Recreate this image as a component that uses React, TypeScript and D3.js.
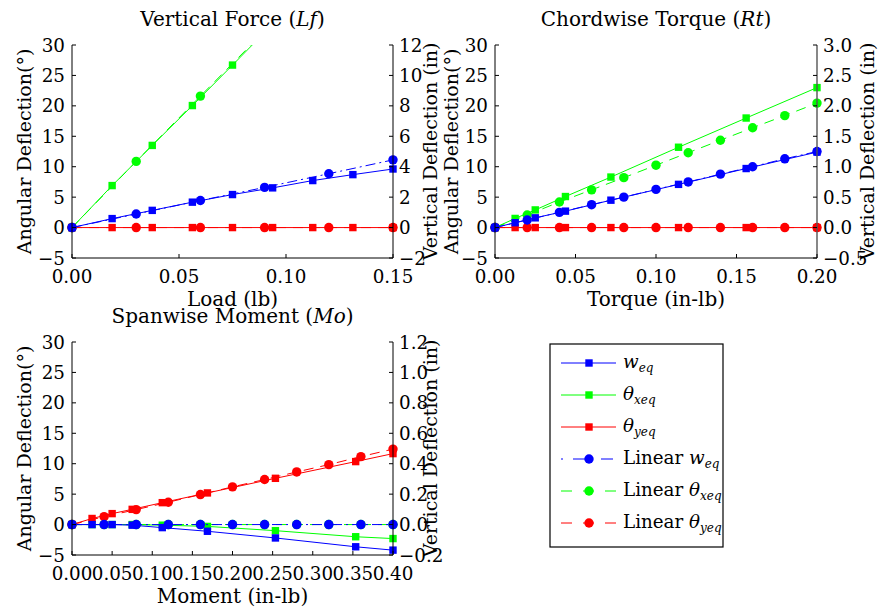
import React from 'react';
import * as d3 from 'd3';

// ---- Vertical force (Lf) ----
const loadExp = [0, 0.01875, 0.0375, 0.05625, 0.075, 0.09375, 0.1125, 0.13125, 0.15];
const loadExpW = [0, 0.59, 1.13, 1.67, 2.17, 2.61, 3.09, 3.48, 3.85];
const loadExpThX = [0, 6.9, 13.5, 20.05, 26.7, 33.4, 40.1, 46.8, 53.5];
const loadExpThY = [0, 0, 0, 0, 0, 0, 0, 0, 0];
const loadLin = [0, 0.03, 0.06, 0.09, 0.12, 0.15];
const loadLinW = [0, 0.89, 1.78, 2.64, 3.54, 4.45];
const loadLinThX = [0, 10.87, 21.6, 32.3, 43.1, 53.8];
const loadLinThY = [0, 0, 0, 0, 0, 0];

// ---- Chordwise torque (Rt) ----
const torqExp = [0, 0.0125, 0.025, 0.04375, 0.072, 0.114, 0.156, 0.2];
const torqExpW = [0, 0.08, 0.16, 0.27, 0.45, 0.71, 0.97, 1.24];
const torqExpThX = [0, 1.5, 2.9, 5.1, 8.3, 13.2, 18.0, 23.0];
const torqExpThY = [0, 0, 0, 0, 0, 0, 0, 0];
const torqLin = [0, 0.02, 0.04, 0.06, 0.08, 0.1, 0.12, 0.14, 0.16, 0.18, 0.2];
const torqLinW = [0, 0.125, 0.25, 0.376, 0.5, 0.627, 0.75, 0.878, 1.0, 1.13, 1.25];
const torqLinThX = [0, 2.07, 4.2, 6.2, 8.2, 10.25, 12.3, 14.35, 16.4, 18.4, 20.45];
const torqLinThY = [0, 0, 0, 0, 0, 0, 0, 0, 0, 0, 0];

// ---- Spanwise moment (Mo) ----
const momExp = [0, 0.025, 0.05, 0.075, 0.1125, 0.16875, 0.2535, 0.3535, 0.4];
const momExpW = [0, 0, 0, -0.004, -0.02, -0.044, -0.088, -0.146, -0.168];
const momExpThX = [0, 0, 0, 0, -0.1, -0.3, -1.0, -2.0, -2.3];
const momExpThY = [0, 1.0, 1.8, 2.5, 3.6, 5.2, 7.6, 10.35, 11.66];
const momLin = [0, 0.04, 0.08, 0.12, 0.16, 0.2, 0.24, 0.28, 0.32, 0.36, 0.4];
const momLinW = [0, 0, 0, 0, 0, 0, 0, 0, 0, 0, 0];
const momLinThX = [0, 0, 0, 0, 0, 0, 0, 0, 0, 0, 0];
const momLinThY = [0, 1.3, 2.46, 3.67, 4.93, 6.2, 7.4, 8.65, 9.85, 11.17, 12.4];

const leftTicks = [-5, 0, 5, 10, 15, 20, 25, 30];

const FONT = "'DejaVu Serif', serif";
const FS = 18.3;
const LFS = 20; // titles / x labels
const YFS = 19; // rotated y labels
const BLUE = '#0000ff';
const GREEN = '#00ff00';
const RED = '#ff0000';
const DASH = '10,7';
const DASHDOT = '10,4,2,4';

const minus = (s: string) => s.replace('-', '\u2212');

type Series = { xs: number[]; ys: number[]; right: boolean; color: string; dash?: string; marker: 'sq' | 'ci' };

const Marker = ({ kind, x, y, color }: { kind: string; x: number; y: number; color: string }) =>
  kind === 'sq'
    ? <rect x={x - 3.7} y={y - 3.7} width={7.4} height={7.4} fill={color} />
    : <circle cx={x} cy={y} r={4.7} fill={color} />;

const Panel = (p: any) => {
  const { id, x0, x1, yTop, yBot, xMax, rMin, rMax, rTicks, rFmt, title, xlabel, series, lLabX, rLabX, rAxisColor } = p;
  const x = d3.scaleLinear().domain([0, xMax]).range([x0, x1]);
  const yl = d3.scaleLinear().domain([-5, 30]).range([yBot, yTop]);
  const yr = d3.scaleLinear().domain([rMin, rMax]).range([yBot, yTop]);
  const xTicks = d3.range(0, xMax + 1e-9, 0.05);
  const mid = (yTop + yBot) / 2;
  const tick = 4;
  return (
    <g fontFamily={FONT} fontSize={FS} fill="#000">
      <defs>
        <clipPath id={`clip-${id}`}>
          <rect x={x0} y={yTop} width={x1 - x0} height={yBot - yTop} />
        </clipPath>
      </defs>
      {/* left-axis series first, right-axis (w) series on top */}
      {series.map((s: Series, i: number) => {
        const y = s.right ? yr : yl;
        const line = d3.line<number>().x((_, j) => x(s.xs[j])).y(v => y(v));
        const [lo, hi] = y.domain();
        return (
          <g key={i}>
            <path d={line(s.ys) || ''} fill="none" stroke={s.color} strokeWidth={1}
              strokeDasharray={s.dash} clipPath={`url(#clip-${id})`} />
            {s.ys.map((v, j) => (v >= lo && v <= hi)
              ? <Marker key={j} kind={s.marker} x={x(s.xs[j])} y={y(v)} color={s.color} /> : null)}
          </g>
        );
      })}
      <line x1={x0} x2={x0} y1={yTop} y2={yBot} stroke="#000" />
      <line x1={x1} x2={x1} y1={yTop} y2={yBot} stroke={rAxisColor || '#000'} strokeWidth={rAxisColor ? 1.4 : 1} />
      <line x1={x0} x2={x1} y1={yBot} y2={yBot} stroke="#000" />
      {leftTicks.map(t => (
        <g key={`l${t}`}>
          <line x1={x0} x2={x0 + tick} y1={yl(t)} y2={yl(t)} stroke="#000" />
          <text x={x0 - 7} y={yl(t)} dy="0.36em" textAnchor="end">{minus(String(t))}</text>
        </g>
      ))}
      {rTicks.map((t: number) => (
        <g key={`r${t}`}>
          <line x1={x1} x2={x1 - tick} y1={yr(t)} y2={yr(t)} stroke="#000" />
          <text x={x1 + 6} y={yr(t)} dy="0.36em" textAnchor="start">{minus(rFmt(t))}</text>
        </g>
      ))}
      {xTicks.map(t => (
        <g key={`x${t}`}>
          <line x1={x(t)} x2={x(t)} y1={yBot} y2={yBot - tick} stroke="#000" />
          <text x={x(t)} y={yBot + 25} textAnchor="middle">{t.toFixed(2)}</text>
        </g>
      ))}
      <g fontSize={LFS}>
        <text x={(x0 + x1) / 2} y={yTop - 19} textAnchor="middle">
          {title[0]}<tspan fontStyle="italic">{title[1]}</tspan>{title[2]}
        </text>
        <text x={(x0 + x1) / 2} y={yBot + 48} textAnchor="middle">{xlabel}</text>
      </g>
      <g fontSize={YFS}>
        <text transform={`translate(${lLabX},${mid}) rotate(-90)`} textAnchor="middle">Angular Deflection(°)</text>
        <text transform={`translate(${rLabX},${mid}) rotate(-90)`} textAnchor="middle">Vertical Deflection (in)</text>
      </g>
    </g>
  );
};

const mk = (ex: number[], lin: number[], eW: number[], eX: number[], eY: number[], lW: number[], lX: number[], lY: number[]): Series[] => [
  { xs: ex, ys: eX, right: false, color: GREEN, marker: 'sq' },
  { xs: ex, ys: eY, right: false, color: RED, marker: 'sq' },
  { xs: lin, ys: lX, right: false, color: GREEN, dash: DASH, marker: 'ci' },
  { xs: lin, ys: lY, right: false, color: RED, dash: DASH, marker: 'ci' },
  { xs: ex, ys: eW, right: true, color: BLUE, marker: 'sq' },
  { xs: lin, ys: lW, right: true, color: BLUE, dash: DASHDOT, marker: 'ci' },
];

const legendItems = [
  { color: BLUE, dash: undefined, marker: 'sq', pre: '', sym: 'w', sub: 'eq' },
  { color: GREEN, dash: undefined, marker: 'sq', pre: '', sym: 'θ', sub: 'xeq' },
  { color: RED, dash: undefined, marker: 'sq', pre: '', sym: 'θ', sub: 'yeq' },
  { color: BLUE, dash: '2,10,12,16,12,10,2', marker: 'ci', pre: 'Linear ', sym: 'w', sub: 'eq' },
  { color: GREEN, dash: '11,11', marker: 'ci', pre: 'Linear ', sym: 'θ', sub: 'xeq' },
  { color: RED, dash: '11,11', marker: 'ci', pre: 'Linear ', sym: 'θ', sub: 'yeq' },
];

const Legend = () => {
  const rows = d3.scalePoint<number>().domain(d3.range(legendItems.length)).range([363, 523]);
  return (
    <g fontFamily={FONT} fontSize={FS}>
      <rect x={550} y={344} width={173} height={203} fill="#fff" stroke="#000" strokeWidth={1.2} />
      {legendItems.map((it, i) => {
        const y = rows(i) as number;
        return (
          <g key={i}>
            <line x1={561} x2={616} y1={y} y2={y} stroke={it.color} strokeWidth={1} strokeDasharray={it.dash} />
            <Marker kind={it.marker} x={589} y={y} color={it.color} />
            <text x={623} y={y} dy="0.3em">
              {it.pre}<tspan fontStyle="italic">{it.sym}</tspan>
              <tspan fontStyle="italic" fontSize={12} dy={4}>{it.sub}</tspan>
            </text>
          </g>
        );
      })}
    </g>
  );
};

export default function App() {
  return (
    <svg width={879} height={611} style={{ position: 'absolute', left: 0, top: 0, background: '#fff' }}>
      <Panel id="a" x0={72} x1={393} yTop={45} yBot={258} xMax={0.15}
        rMin={-2} rMax={12} rTicks={[-2, 0, 2, 4, 6, 8, 10, 12]} rFmt={(t: number) => String(t)}
        title={['Vertical Force (', 'Lf', ')']} xlabel="Load (lb)" lLabX={31} rLabX={437}
        series={mk(loadExp, loadLin, loadExpW, loadExpThX, loadExpThY, loadLinW, loadLinThX, loadLinThY)} />
      <Panel id="b" x0={495} x1={817} yTop={45} yBot={258} xMax={0.2}
        rMin={-0.5} rMax={3} rTicks={[-0.5, 0, 0.5, 1, 1.5, 2, 2.5, 3]} rFmt={(t: number) => t.toFixed(1)}
        title={['Chordwise Torque (', 'Rt', ')']} xlabel="Torque (in-lb)" lLabX={458} rLabX={874} rAxisColor="#555"
        series={mk(torqExp, torqLin, torqExpW, torqExpThX, torqExpThY, torqLinW, torqLinThX, torqLinThY)} />
      <Panel id="c" x0={72} x1={393} yTop={342} yBot={555} xMax={0.4}
        rMin={-0.2} rMax={1.2} rTicks={[-0.2, 0, 0.2, 0.4, 0.6, 0.8, 1.0, 1.2]} rFmt={(t: number) => t.toFixed(1)}
        title={['Spanwise Moment (', 'Mo', ')']} xlabel="Moment (in-lb)" lLabX={31} rLabX={437}
        series={mk(momExp, momLin, momExpW, momExpThX, momExpThY, momLinW, momLinThX, momLinThY)} />
      <Legend />
    </svg>
  );
}
